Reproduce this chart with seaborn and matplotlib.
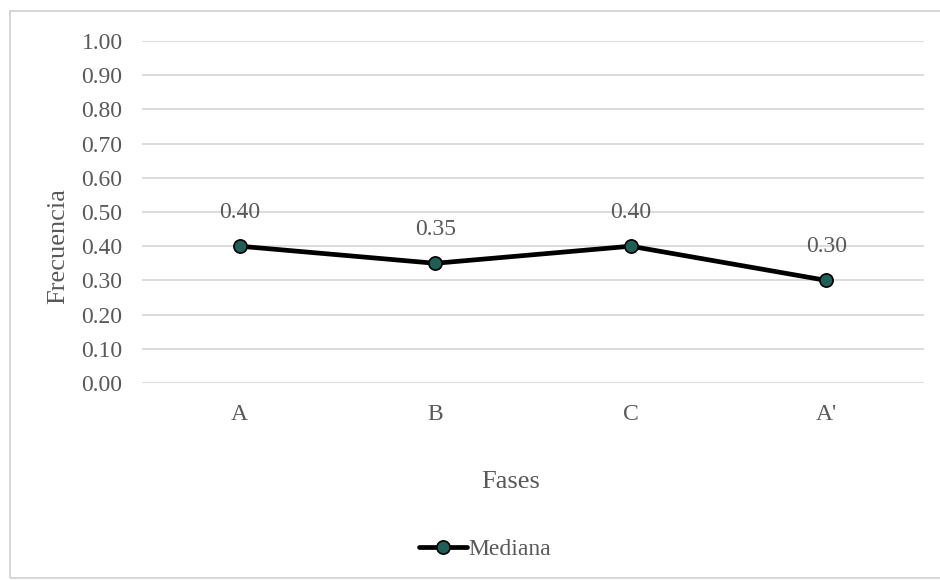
import matplotlib
matplotlib.use("Agg")
import matplotlib.pyplot as plt
import seaborn as sns
import pandas as pd
from matplotlib.patches import Rectangle

fases = ["A", "B", "C", "A'"]
mediana = [0.40, 0.35, 0.40, 0.30]
yticks = [0.0, 0.1, 0.2, 0.3, 0.4, 0.5, 0.6, 0.7, 0.8, 0.9, 1.0]

sns.set_theme(style="white")
plt.rcParams['font.family'] = ['Liberation Serif', 'DejaVu Serif']

df = pd.DataFrame({"Fases": fases, "Mediana": mediana, "x": range(len(fases))})

L, R, T, B = 142, 924, 41, 383
fig = plt.figure(figsize=(9.4, 5.8), dpi=100)
ax = fig.add_axes([L/940, 1-B/580, (R-L)/940, (B-T)/580])

txt = "#595959"
sns.lineplot(data=df, x="x", y="Mediana", ax=ax, color="black", linewidth=3.4,
             marker="o", markersize=9.5, markerfacecolor="#1F5F57",
             markeredgecolor="black", markeredgewidth=1.2, label="Mediana",
             zorder=3)

for xi, v in zip(df["x"], mediana):
    ax.annotate(f"{v:.2f}", (xi, v), xytext=(0, 17), textcoords="offset points",
                ha="center", va="bottom", color=txt, fontsize=17)

ax.set_xlim(-0.5, len(fases) - 0.5)
ax.set_ylim(0, 1.0)
ax.set_yticks(yticks)
ax.set_yticklabels([f"{t:.2f}" for t in yticks])
ax.set_xticks(list(df["x"]))
ax.set_xticklabels(fases)
ax.yaxis.grid(True, color="#D9D9D9", linewidth=1.3)
ax.xaxis.grid(False)
for s in ax.spines.values():
    s.set_visible(False)
ax.tick_params(axis="both", length=0, colors=txt, labelsize=17)
ax.tick_params(axis="y", pad=14)
ax.tick_params(axis="x", pad=15)
ax.set_xlabel("Fases", color=txt, fontsize=19)
ax.xaxis.set_label_coords((511-L)/(R-L), -(482-B)/(B-T))
ax.xaxis.label.set_va("center")
ax.set_ylabel("Frecuencia", color=txt, fontsize=19)
ax.yaxis.set_label_coords((58-L)/(R-L), (B-246)/(B-T))
ax.yaxis.label.set_va("center")
ax.yaxis.label.set_ha("center")

leg = ax.legend(loc="center", bbox_to_anchor=(485/940, 1-549/580),
                bbox_transform=fig.transFigure, frameon=False, fontsize=17,
                handlelength=2.0, handletextpad=0.05)
for t in leg.get_texts():
    t.set_color(txt)

fig.patches.append(Rectangle((10/940, 2/580), 940/940, 1-13/580, transform=fig.transFigure,
                             fill=False, edgecolor="#D0D0D0", linewidth=1.2, zorder=0))

fig.savefig("out.png", dpi=100)
